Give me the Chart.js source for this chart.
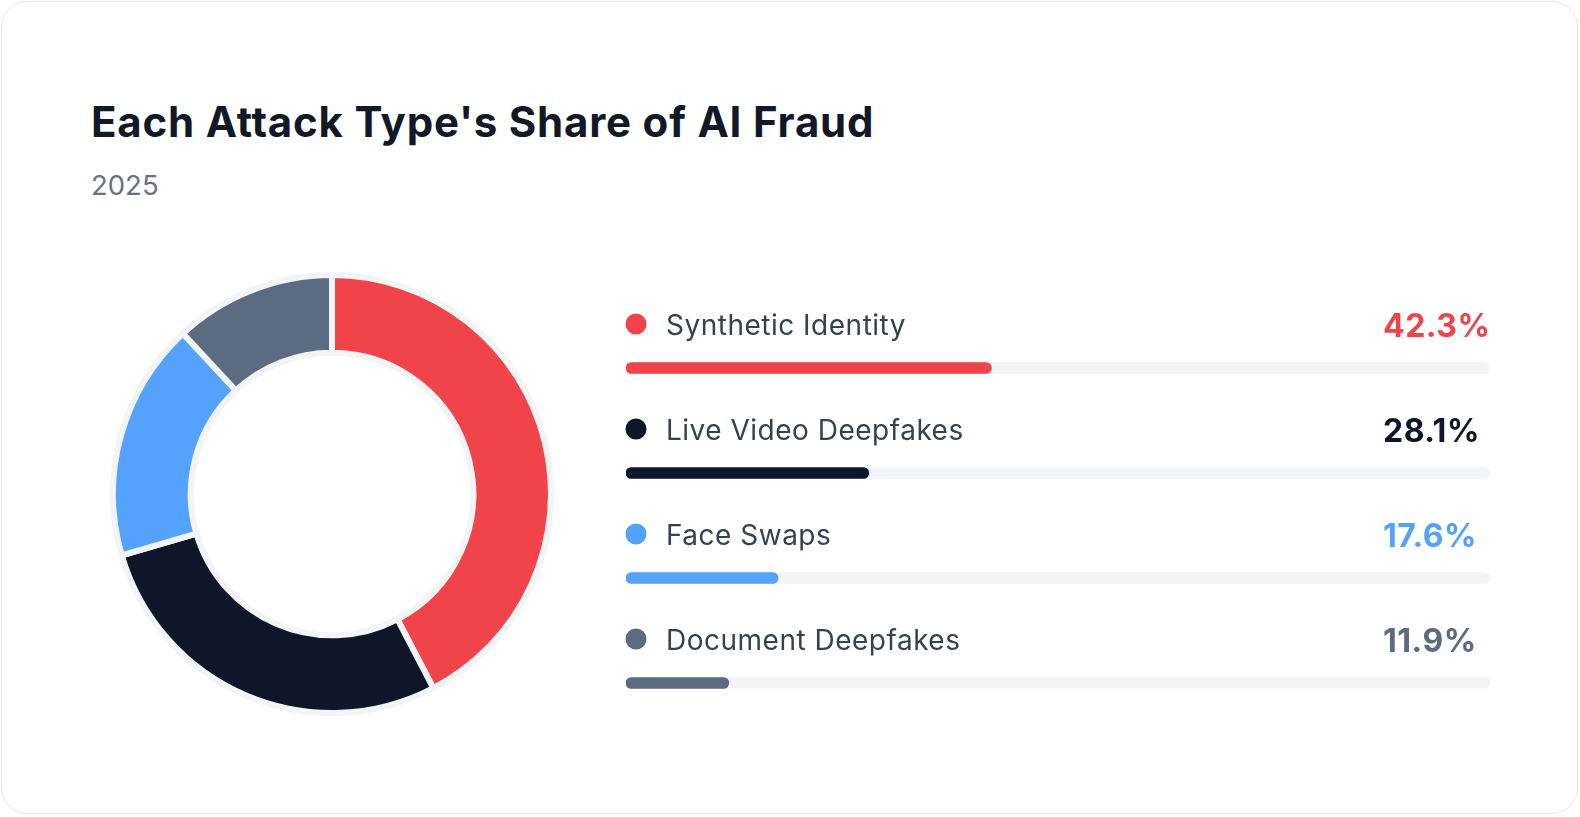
<!DOCTYPE html>
<html>
<head>
<meta charset="utf-8">
<title>Each Attack Type's Share of AI Fraud</title>
<script src="https://cdn.jsdelivr.net/npm/chart.js@4.4.1/dist/chart.umd.min.js"></script>
<style>
    html, body {
        margin: 0;
        padding: 0;
        background: #ffffff;
        font-family: Inter, "Noto Sans", sans-serif;
    }
    .card {
        position: absolute;
        left: 1px;
        top: 1px;
        width: 1577px;
        height: 813px;
        box-sizing: border-box;
        border: 1px solid #e5e7eb;
        border-radius: 26px;
        background: #ffffff;
    }
    .title {
        position: absolute;
        left: 91px;
        top: 100.5px;
        margin: 0;
        font-size: 42px;
        line-height: 1;
        font-weight: 700;
        letter-spacing: 0.8px;
        color: #111827;
        white-space: nowrap;
    }
    .subtitle {
        position: absolute;
        left: 91px;
        top: 172px;
        margin: 0;
        font-size: 27.5px;
        line-height: 1;
        color: #6b7280;
    }
    #donutWrap {
        position: absolute;
        left: 100px;
        top: 262px;
        width: 464px;
        height: 464px;
    }
    #barsWrap {
        position: absolute;
        left: 600px;
        top: 260px;
        width: 920px;
        height: 490px;
    }
</style>
</head>
<body>
<div class="card"></div>
<h1 class="title">Each Attack Type's Share of AI Fraud</h1>
<p class="subtitle">2025</p>
<div id="donutWrap"><canvas id="donutChart"></canvas></div>
<div id="barsWrap"><canvas id="barChart"></canvas></div>

<script>
const categories = ['Synthetic Identity', 'Live Video Deepfakes', 'Face Swaps', 'Document Deepfakes'];
const shares = [42.3, 28.1, 17.6, 11.9];
const colors = ['#f0444a', '#0f1629', '#54a2fb', '#5b6b82'];
const trackMax = 100;

Chart.defaults.font.family = 'Inter, "Noto Sans", sans-serif';
Chart.defaults.animation = false;

// doughnut on the left
new Chart(document.getElementById('donutChart'), {
    type: 'doughnut',
    data: {
        labels: categories,
        datasets: [{
            data: shares,
            backgroundColor: colors,
            borderColor: '#f3f4f6',
            borderWidth: 6,
            hoverBorderWidth: 6,
            hoverOffset: 0
        }]
    },
    options: {
        responsive: true,
        maintainAspectRatio: false,
        cutout: '64.5%',
        layout: { padding: 10 },
        plugins: {
            legend: { display: false },
            tooltip: { enabled: false }
        }
    }
});

// labels, dots and percentages above every progress bar
const rowText = {
    id: 'rowText',
    afterDatasetsDraw(chart) {
        const ctx = chart.ctx;
        const meta = chart.getDatasetMeta(0);
        ctx.save();
        meta.data.forEach(function(bar, i) {
            const y = bar.y;

            ctx.beginPath();
            ctx.fillStyle = colors[i];
            ctx.arc(36, y - 44, 10.5, 0, Math.PI * 2);
            ctx.fill();

            ctx.textBaseline = 'alphabetic';
            ctx.textAlign = 'left';
            ctx.letterSpacing = '0.5px';
            ctx.font = '400 28px Inter, "Noto Sans", sans-serif';
            ctx.fillStyle = '#374151';
            ctx.fillText(categories[i], 66, y - 33);

            ctx.letterSpacing = '0.5px';
            ctx.font = '700 32px Inter, "Noto Sans", sans-serif';
            ctx.fillStyle = colors[i];
            ctx.fillText(shares[i].toFixed(1) + '%', 783, y - 31.5);
        });
        ctx.restore();
    }
};

new Chart(document.getElementById('barChart'), {
    type: 'bar',
    data: {
        labels: categories,
        datasets: [
            {
                data: shares,
                backgroundColor: colors,
                barThickness: 11,
                borderRadius: 6,
                borderSkipped: false,
                grouped: false
            },
            {
                data: categories.map(() => trackMax),
                backgroundColor: '#f3f4f6',
                barThickness: 11,
                borderRadius: 6,
                borderSkipped: false,
                grouped: false
            }
        ]
    },
    options: {
        indexAxis: 'y',
        responsive: true,
        maintainAspectRatio: false,
        layout: {
            padding: { left: 26, right: 30, top: 55.5, bottom: 14.5 }
        },
        scales: {
            x: { display: false, min: 0, max: trackMax },
            y: { display: false }
        },
        plugins: {
            legend: { display: false },
            tooltip: { enabled: false }
        }
    },
    plugins: [rowText]
});
</script>
</body>
</html>
